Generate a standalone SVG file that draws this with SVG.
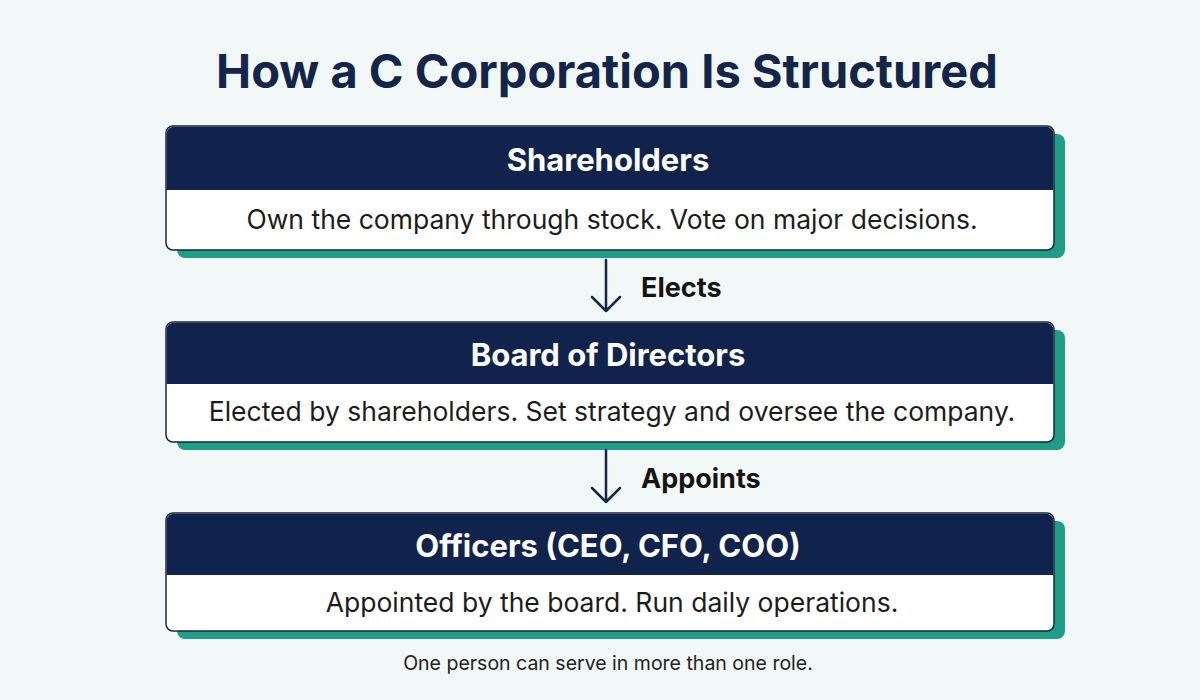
<svg xmlns="http://www.w3.org/2000/svg" width="1200" height="700" viewBox="0 0 1200 700">
  <defs>
    <style>
      .bg { fill: #f2f8f8; }
      .shadow { fill: #1e9e86; }
      .card { fill: #ffffff; stroke: #1a2540; stroke-width: 1.5; }
      .head { fill: #10234d; }
      .title { font-family: Inter, "Liberation Sans", sans-serif; font-weight: 700; font-size: 47px; fill: #13254a; text-anchor: middle; }
      .htxt { font-family: Inter, "Liberation Sans", sans-serif; font-weight: 700; font-size: 31px; fill: #ffffff; text-anchor: middle; }
      .btxt { font-family: Inter, "Liberation Sans", sans-serif; font-weight: 400; font-size: 26.5px; fill: #1c1c1c; text-anchor: middle; }
      .lbl { font-family: Inter, "Liberation Sans", sans-serif; font-weight: 700; font-size: 27px; fill: #141414; }
      .foot { font-family: Inter, "Liberation Sans", sans-serif; font-weight: 400; font-size: 19.5px; fill: #222222; text-anchor: middle; }
      .conn { fill: none; stroke: #13254a; stroke-width: 2.5; stroke-linecap: round; stroke-linejoin: round; }
    </style>
  </defs>
  <rect class="bg" x="0" y="0" width="1200" height="700"/>
  <text class="title" x="607" y="88">How a C Corporation Is Structured</text>

  <g id="shareholders">
    <rect class="shadow" x="177" y="134" width="888" height="124" rx="8"/>
    <rect class="card" x="166" y="126" width="888" height="124" rx="7"/>
    <path class="head" d="M166.75,190 V133 a7,7 0 0 1 7,-6.25 H1046.25 a7,7 0 0 1 7,6.25 V190 Z"/>
    <text class="htxt" x="608" y="171">Shareholders</text>
    <text class="btxt" x="612" y="229">Own the company through stock. Vote on major decisions.</text>
  </g>

  <g id="board">
    <rect class="shadow" x="177" y="330" width="888" height="120" rx="8"/>
    <rect class="card" x="166" y="322" width="888" height="120" rx="7"/>
    <path class="head" d="M166.75,384 V329 a7,7 0 0 1 7,-6.25 H1046.25 a7,7 0 0 1 7,6.25 V384 Z"/>
    <text class="htxt" x="608" y="366">Board of Directors</text>
    <text class="btxt" x="612" y="421">Elected by shareholders. Set strategy and oversee the company.</text>
  </g>

  <g id="officers">
    <rect class="shadow" x="177" y="521" width="888" height="118" rx="8"/>
    <rect class="card" x="166" y="513" width="888" height="118" rx="7"/>
    <path class="head" d="M166.75,575 V520 a7,7 0 0 1 7,-6.25 H1046.25 a7,7 0 0 1 7,6.25 V575 Z"/>
    <text class="htxt" x="608" y="557">Officers (CEO, CFO, COO)</text>
    <text class="btxt" x="612" y="612">Appointed by the board. Run daily operations.</text>
  </g>

  <g id="connectors">
    <path class="conn" d="M606,260 V311 M592,297 L606,311 L620,297"/>
    <text class="lbl" x="641" y="297">Elects</text>
    <path class="conn" d="M606,450 V502 M592,488 L606,502 L620,488"/>
    <text class="lbl" x="641" y="488">Appoints</text>
  </g>

  <text class="foot" x="608" y="670">One person can serve in more than one role.</text>
</svg>
